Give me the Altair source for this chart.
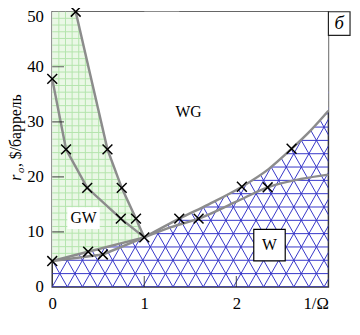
import altair as alt
import numpy as np
import pandas as pd

# ---------------- data ----------------
# GW / WG boundary that starts at the top edge
a_x = [0.255, 0.60, 0.755, 0.91, 1.00]
a_y = [50.0, 25.0, 18.0, 12.4, 9.0]
# second line starting on the r_o axis at ~38
b_x = [0.00, 0.15, 0.38, 0.745, 1.00]
b_y = [37.8, 25.0, 18.0, 12.4, 9.0]
# GW / W lines (two nearly coincident)
l1_x = [0.00, 0.39, 1.00]
l1_y = [4.7, 6.4, 9.0]
l2_x = [0.00, 0.55, 1.00]
l2_y = [4.7, 5.9, 9.0]
# WG / W curves
u_x = [1.00, 1.38, 1.70, 2.06, 2.35, 2.60, 2.80, 3.00]
u_y = [9.0, 12.4, 15.0, 18.2, 21.4, 25.1, 28.3, 32.0]
d_x = [1.00, 1.30, 1.59, 2.00, 2.34, 2.70, 3.00]
d_y = [9.0, 10.9, 12.4, 15.5, 18.1, 19.6, 20.4]
# computed points (crosses)
mk_x = [0.255, 0.60, 0.755, 0.91, 1.00, 0.00, 0.15, 0.38, 0.745,
        0.00, 0.39, 0.55, 1.38, 1.59, 2.06, 2.34, 2.60]
mk_y = [50.0, 25.0, 18.0, 12.4, 9.0, 37.8, 25.0, 18.0, 12.4,
        4.7, 6.4, 5.9, 12.4, 12.4, 18.2, 18.1, 25.1]
# region labels
reg_names = ["WG", "GW", "W"]
reg_x = [1.48, 0.34, 2.36]
reg_y = [31.7, 12.5, 7.6]
# axes
y_ticks = [0, 10, 20, 30, 40, 50]
x_ticks = [0, 1, 2, 3]
x_tick_labels = ["0", "1", "2", "1/Ω"]
y_inner_ticks = [10, 20, 30, 40]
x_inner_ticks = [1, 2]
panel_tag = "б"

# ---------------- styling ----------------
FONT = "Liberation Serif"
GRAY = "#8c8c8c"
BLUE = "#3434c8"
GREEN_FILL = "#eaf8e6"
GREEN_LINE = "#b4e4ac"
XMAX, YMAX = 3.0, 50.0
W, H = 281, 280

xs = alt.Scale(domain=[0, XMAX], nice=False, zero=False)
ys = alt.Scale(domain=[0, YMAX], nice=False, zero=False)

label_expr = " : ".join(
    [f"datum.value == {v} ? '{t}'" for v, t in zip(x_ticks, x_tick_labels)] + ["datum.label"]
)
xaxis = alt.Axis(values=x_ticks, labelExpr=label_expr, ticks=False, domain=False, grid=False,
                 labelFont=FONT, labelFontSize=17, labelColor="black", labelPadding=9,
                 title=None,
                 labelAlign={"condition": {"test": f"datum.value == {x_ticks[-1]}", "value": "right"},
                             "value": "center"})
yaxis = alt.Axis(values=y_ticks, ticks=False, domain=False, grid=False,
                 labelFont=FONT, labelFontSize=17, labelColor="black", labelPadding=9,
                 title=None,
                 labelOffset={"condition": {"test": f"datum.value == {y_ticks[-1]}", "value": 5},
                              "value": 0})


def X(f):
    return alt.X(f, type="quantitative", scale=xs, axis=xaxis)


def Y(f):
    return alt.Y(f, type="quantitative", scale=ys, axis=yaxis)


# ---- triangular lattice (decoration of region W) ----
h = 2.42      # row spacing (r_o units)
w = 0.164     # triangle base (1/Ω units)
s = h / (w / 2)
ytop = 36.0
rows = []
for yy in np.arange(0, ytop, h):
    rows.append((0.0, yy, XMAX, yy))
run = ytop / s
for k in range(int(-run / w) - 2, int(XMAX / w) + 2):
    x0 = k * w
    rows.append((x0, 0.0, x0 + run, ytop))
for k in range(0, int((XMAX + run) / w) + 2):
    x0 = k * w
    rows.append((x0, 0.0, x0 - run, ytop))
lattice = pd.DataFrame(rows, columns=["x", "y", "x2", "y2"])
lat_layer = alt.Chart(lattice).mark_rule(color=BLUE, strokeWidth=1, clip=True).encode(
    x=X("x"), y=Y("y"), x2="x2", y2="y2")

# ---- white cover above the W boundary (overlapping pieces, no seam) ----
cov_left = pd.DataFrame({"x": l1_x + u_x[1:2], "y": l1_y + u_y[1:2], "top": YMAX})
cov_right = pd.DataFrame({"x": u_x, "y": u_y, "top": YMAX})
cov1 = alt.Chart(cov_left).mark_area(color="white", opacity=1, interpolate="linear").encode(
    x=X("x"), y=Y("y"), y2="top")
cov2 = alt.Chart(cov_right).mark_area(color="white", opacity=1, interpolate="monotone").encode(
    x=X("x"), y=Y("y"), y2="top")

# ---- green region GW ----
top_x = [0.0] + a_x
top_y = [YMAX] + a_y
gxs = sorted(set([0.0] + a_x + l1_x))
green = pd.DataFrame({
    "x": gxs,
    "lo": np.interp(gxs, l1_x, l1_y),
    "hi": np.interp(gxs, top_x, top_y),
})
green_layer = alt.Chart(green).mark_area(color=GREEN_FILL, opacity=1).encode(
    x=X("x"), y=Y("lo"), y2="hi")

dx = 0.072
dy = 1.22
g_rows = []
for gx in np.arange(dx, 1.0, dx):
    g_rows.append((gx, float(np.interp(gx, l1_x, l1_y)), gx, float(np.interp(gx, top_x, top_y))))
for gy in np.arange(dy, YMAX, dy):
    if gy <= l1_y[0]:
        continue
    if gy >= a_y[-1]:
        xr = float(np.interp(gy, a_y[::-1], a_x[::-1]))
    else:
        xr = float(np.interp(gy, l1_y, l1_x))
    g_rows.append((0.0, gy, xr, gy))
ggrid = pd.DataFrame(g_rows, columns=["x", "y", "x2", "y2"])
ggrid_layer = alt.Chart(ggrid).mark_rule(color=GREEN_LINE, strokeWidth=1).encode(
    x=X("x"), y=Y("y"), x2="x2", y2="y2")

# ---- boundary lines ----
lin = pd.concat([
    pd.DataFrame({"x": a_x, "y": a_y, "s": "a", "o": range(len(a_x))}),
    pd.DataFrame({"x": b_x, "y": b_y, "s": "b", "o": range(len(b_x))}),
    pd.DataFrame({"x": l1_x, "y": l1_y, "s": "l1", "o": range(len(l1_x))}),
    pd.DataFrame({"x": l2_x, "y": l2_y, "s": "l2", "o": range(len(l2_x))}),
])
cur = pd.concat([
    pd.DataFrame({"x": u_x, "y": u_y, "s": "u", "o": range(len(u_x))}),
    pd.DataFrame({"x": d_x, "y": d_y, "s": "d", "o": range(len(d_x))}),
])
lin_layer = alt.Chart(lin).mark_line(color=GRAY, strokeWidth=2.5).encode(
    x=X("x"), y=Y("y"), detail="s:N", order="o:Q")
cur_layer = alt.Chart(cur).mark_line(color=GRAY, strokeWidth=2.5, interpolate="monotone").encode(
    x=X("x"), y=Y("y"), detail="s:N", order="o:Q")

# ---- markers ----
marks = pd.DataFrame({"x": mk_x, "y": mk_y})
mk_layer = alt.Chart(marks).mark_point(
    shape="M-1,-1L1,1M-1,1L1,-1", filled=False, stroke="black", strokeWidth=1.5,
    size=100, opacity=1, clip=False).encode(x=X("x"), y=Y("y"))

# ---- region labels ----
regs = pd.DataFrame({"name": reg_names, "x": reg_x, "y": reg_y})
gw_box = alt.Chart(regs[regs.name == "GW"]).mark_point(
    shape="M-1.5,-1L1.5,-1L1.5,1L-1.5,1Z", filled=True, fill="white", opacity=1,
    strokeWidth=0, size=484).encode(x=X("x"), y=Y("y"))
w_box = alt.Chart(regs[regs.name == "W"]).mark_point(
    shape="M-1,-1L1,-1L1,1L-1,1Z", filled=True, fill="white", stroke="black", opacity=1,
    strokeWidth=1.2, size=1024).encode(x=X("x"), y=Y("y"))
reg_text = alt.Chart(regs).mark_text(font=FONT, fontSize=16, color="black",
                                     align="center", baseline="middle").encode(
    x=X("x"), y=Y("y"), text="name:N")

# ---- inward ticks ----
yt = pd.DataFrame({"x": 0.0, "y": y_inner_ticks})
xt = pd.DataFrame({"x": x_inner_ticks, "y": 0.0})
yt_layer = alt.Chart(yt).mark_tick(orient="horizontal", size=24, thickness=1.2,
                                   color="#222", clip=True).encode(x=X("x"), y=Y("y"))
xt_layer = alt.Chart(xt).mark_tick(orient="vertical", size=22, thickness=1.2,
                                   color="#222", clip=True).encode(x=X("x"), y=Y("y"))

# ---- panel tag and y title ----
tag = pd.DataFrame({"t": [panel_tag]})
tag_box = alt.Chart(tag).mark_rect(fill="white", stroke="#222", strokeWidth=1.2).encode(
    x=alt.value(W), x2=alt.value(W + 22), y=alt.value(0), y2=alt.value(24))
tag_text = alt.Chart(tag).mark_text(font=FONT, fontStyle="italic", fontSize=19, color="black",
                                    align="center", baseline="middle").encode(
    x=alt.value(W + 11), y=alt.value(12), text="t:N")

ttl = pd.DataFrame({"r": ["r"], "o": ["o"], "rest": [", $/баррель"]})
t_r = alt.Chart(ttl).mark_text(font=FONT, fontStyle="italic", fontSize=16, angle=270,
                               align="left", baseline="middle", color="black").encode(
    x=alt.value(-37), y=alt.value(172), text="r:N")
t_o = alt.Chart(ttl).mark_text(font=FONT, fontStyle="italic", fontSize=11, angle=270,
                               align="left", baseline="middle", color="black").encode(
    x=alt.value(-32), y=alt.value(164), text="o:N")
t_rest = alt.Chart(ttl).mark_text(font=FONT, fontSize=16, angle=270,
                                  align="left", baseline="middle", color="black").encode(
    x=alt.value(-37), y=alt.value(158), text="rest:N")

chart = alt.layer(
    lat_layer, cov1, cov2, green_layer, ggrid_layer, lin_layer, cur_layer,
    gw_box, w_box, mk_layer, reg_text, yt_layer, xt_layer,
    tag_box, tag_text, t_r, t_o, t_rest
).properties(
    width=W, height=H,
    autosize=alt.AutoSizeParams(type="none"),
    padding={"left": 45, "top": 1, "right": 24, "bottom": 38},
    background="white",
).configure_view(stroke="#333", strokeWidth=1.5)

chart.save("out.html", embed_options={"renderer": "svg", "actions": False})
